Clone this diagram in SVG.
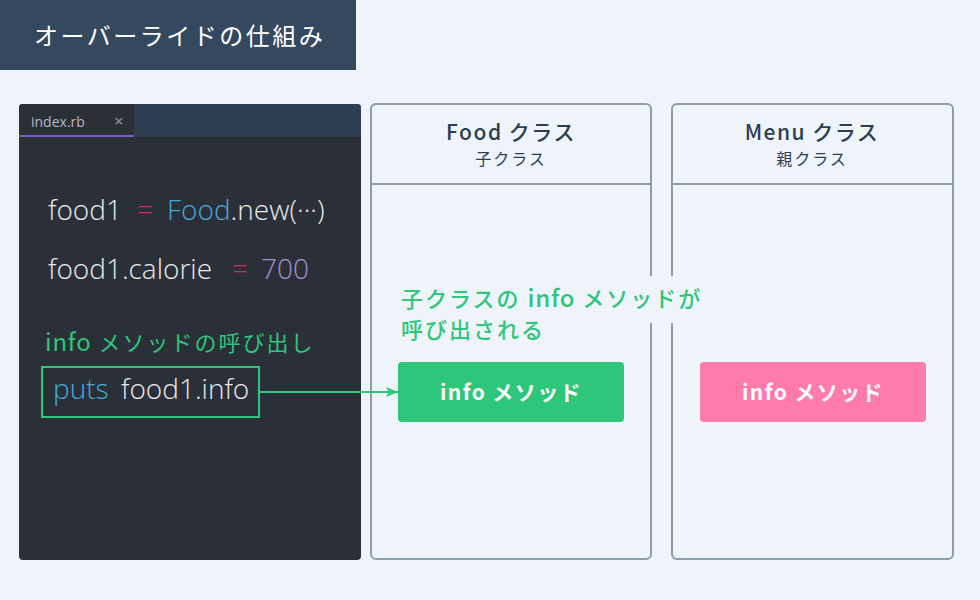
<svg xmlns="http://www.w3.org/2000/svg" width="980" height="600" viewBox="0 0 980 600">
<defs>
<style>
.jp{font-family:"Noto Sans CJK JP","Noto Sans",sans-serif;}
.code{font-family:"Open Sans","Noto Sans CJK JP",sans-serif;font-weight:300;font-size:28px;fill:#e8eaed;}
.box{fill:#eff4fb;stroke:#8d9bab;stroke-width:2;}
.hdr{font-family:"Noto Sans CJK JP",sans-serif;font-size:21px;font-weight:500;fill:#2c3e50;text-anchor:middle;letter-spacing:1.5px;}
.sub{font-family:"Noto Sans CJK JP",sans-serif;font-size:16px;fill:#2c3e50;text-anchor:middle;letter-spacing:2px;}
.btn{font-family:"Noto Sans CJK JP",sans-serif;font-size:21px;font-weight:700;fill:#ffffff;text-anchor:middle;letter-spacing:1.4px;}
.lat{font-size:24px;letter-spacing:0.8px;}
</style>
<marker id="arr" markerWidth="12" markerHeight="10" refX="12" refY="5" orient="auto" markerUnits="userSpaceOnUse">
<path d="M0,0 L12,5 L0,10 L3,5 Z" fill="#2ec67a"/>
</marker>
</defs>
<rect width="980" height="600" fill="#eff4fb"/>
<g id="title">
<rect x="0" y="0" width="356" height="70" fill="#34495e"/>
<text x="34" y="45" class="jp" font-size="24" fill="#ffffff" letter-spacing="2.5">オーバーライドの仕組み</text>
</g>
<g id="editor">
<rect x="19" y="104" width="342" height="456" rx="4" fill="#2a2f38"/>
<path d="M23,104 H357 A4,4 0 0 1 361,108 V137 H19 V108 A4,4 0 0 1 23,104 Z" fill="#2c3e50"/>
<path d="M23,104 H134 V137 H19 V108 A4,4 0 0 1 23,104 Z" fill="#2a2f38"/>
<rect x="19" y="135" width="115" height="2" fill="#7b5fbf"/>
<text x="31" y="127" font-family="Open Sans,sans-serif" font-size="14" fill="#b3b8c0">index.rb</text>
<text x="114" y="127" font-family="Open Sans,sans-serif" font-size="17" font-weight="600" fill="#7d8490">×</text>
<text y="220" class="code"><tspan x="48">food1</tspan><tspan x="137" fill="#e0245e">=</tspan><tspan x="167" fill="#45a9d8">Food</tspan><tspan>.new(···)</tspan></text>
<text y="279" class="code"><tspan x="48">food1.calorie</tspan><tspan x="232" fill="#e0245e">=</tspan><tspan x="261" fill="#a58fd6">700</tspan></text>
<text x="45" y="351" class="jp" font-size="22" fill="#2ec67a" letter-spacing="2"><tspan class="lat">info</tspan> メソッドの呼び出し</text>
<rect x="42" y="367" width="217" height="50" fill="none" stroke="#2ec67a" stroke-width="2"/>
<text y="399" class="code"><tspan x="53" fill="#45a9d8">puts</tspan><tspan x="121">food1.info</tspan></text>
</g>
<g id="food-class">
<rect x="371" y="104" width="280" height="455" rx="5" class="box"/>
<line x1="371" y1="184" x2="651" y2="184" stroke="#8d9bab" stroke-width="2"/>
<text x="511" y="140" class="hdr">Food クラス</text>
<text x="511" y="165" class="sub">子クラス</text>
</g>
<g id="menu-class">
<rect x="672" y="104" width="281" height="455" rx="5" class="box"/>
<line x1="672" y1="184" x2="953" y2="184" stroke="#8d9bab" stroke-width="2"/>
<text x="812" y="140" class="hdr">Menu クラス</text>
<text x="812" y="165" class="sub">親クラス</text>
</g>
<g id="label">
<rect x="395" y="276" width="318" height="47" fill="#eff4fb"/>
<text class="jp" font-size="22" font-weight="500" fill="#2ec67a" letter-spacing="2"><tspan x="401" y="307">子クラスの <tspan class="lat">info</tspan> メソッドが</tspan><tspan x="401" y="338">呼び出される</tspan></text>
</g>
<g id="food-info">
<rect x="398" y="362" width="226" height="60" rx="4" fill="#2ec67a"/>
<text x="511" y="400" class="btn">info メソッド</text>
</g>
<g id="menu-info">
<rect x="700" y="362" width="226" height="60" rx="4" fill="#ff7bab"/>
<text x="813" y="400" class="btn">info メソッド</text>
</g>
<g id="connectors">
<line x1="260" y1="392" x2="398" y2="392" stroke="#2ec67a" stroke-width="2" marker-end="url(#arr)"/>
</g>
</svg>
